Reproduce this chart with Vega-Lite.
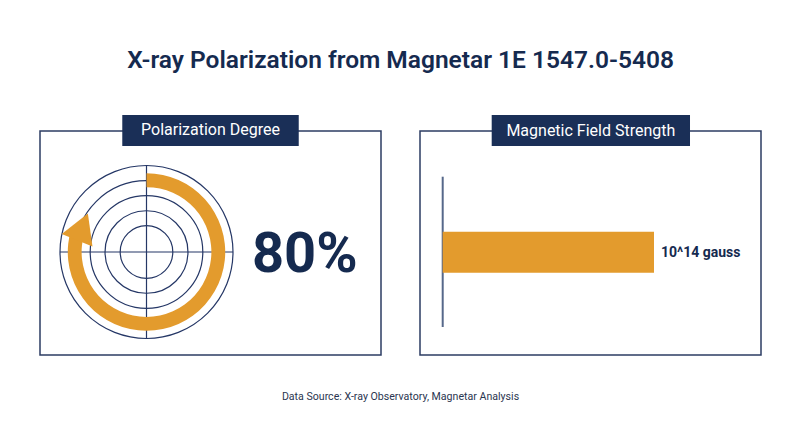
{
  "$schema": "https://vega.github.io/schema/vega-lite/v6.json",
  "background": "white",
  "padding": {"left": 39, "top": 47, "right": 40, "bottom": 10},
  "title": {
    "text": "X-ray Polarization from Magnetar 1E 1547.0-5408",
    "font": "Roboto",
    "fontSize": 24.5,
    "fontWeight": 600,
    "color": "#152a4f",
    "anchor": "middle",
    "offset": 41
  },
  "datasets": {
    "polarization": [{"metric": "Polarization Degree", "degree": 0.8}],
    "rings": [{"r": 30.4}, {"r": 47.7}, {"r": 65.1}, {"r": 82.4}, {"r": 100}],
    "field": [{"metric": "Magnetic Field Strength", "gauss": 1e14, "label": "10^14 gauss"}]
  },
  "vconcat": [
    {
      "spacing": 37,
      "title": {
        "text": "Data Source: X-ray Observatory, Magnetar Analysis",
        "orient": "bottom",
        "anchor": "middle",
        "font": "Roboto",
        "fontSize": 10.6,
        "fontWeight": "normal",
        "color": "#2a3550",
        "offset": 36
      },
      "hconcat": [
        {
          "width": 341,
          "height": 224,
          "layer": [
            {
              "data": {"name": "rings"},
              "mark": {"type": "arc", "filled": false, "stroke": "#253766", "strokeWidth": 1.2},
              "encoding": {
                "x": {"datum": 0, "type": "quantitative", "stack": null, "scale": {"domain": [-100, 100], "range": [20, 193]}, "axis": null},
                "y": {"datum": 0, "type": "quantitative", "stack": null, "scale": {"domain": [-100, 100], "range": [207.5, 34.5]}, "axis": null},
                "theta": {"datum": 0, "type": "quantitative", "stack": null, "scale": {"type": "linear", "domain": [0, 1], "range": [0, 6.2832]}},
                "theta2": {"datum": 1},
                "radius": {"field": "r", "type": "quantitative", "stack": null, "scale": {"type": "linear", "domain": [0, 100], "range": [0, 86.5]}}
              }
            },
            {
              "data": {"name": "polarization"},
              "mark": {"type": "rule", "color": "#253766", "strokeWidth": 1.2},
              "encoding": {
                "x": {"datum": 0, "type": "quantitative"},
                "y": {"datum": -100, "type": "quantitative"},
                "y2": {"datum": 100}
              }
            },
            {
              "data": {"name": "polarization"},
              "mark": {"type": "rule", "color": "#253766", "strokeWidth": 1.2},
              "encoding": {
                "y": {"datum": 0, "type": "quantitative"},
                "x": {"datum": -100, "type": "quantitative"},
                "x2": {"datum": 100}
              }
            },
            {
              "data": {"name": "polarization"},
              "mark": {"type": "arc", "color": "#e39b2d"},
              "encoding": {
                "x": {"datum": 0, "type": "quantitative", "stack": null},
                "y": {"datum": 0, "type": "quantitative", "stack": null},
                "theta": {"field": "degree", "type": "quantitative", "stack": null},
                "theta2": {"datum": 0},
                "radius": {"datum": 91, "type": "quantitative", "stack": null},
                "radius2": {"datum": 75}
              }
            },
            {
              "data": {"name": "polarization"},
              "mark": {"type": "point", "shape": "triangle-up", "filled": true, "color": "#e39b2d", "opacity": 1, "size": 1100, "angle": 22},
              "encoding": {
                "x": {"datum": -74, "type": "quantitative"},
                "y": {"datum": 29, "type": "quantitative"}
              }
            },
            {
              "data": {"name": "polarization"},
              "mark": {"type": "text", "font": "Roboto", "fontSize": 56, "fontWeight": "bold", "color": "#152a4f", "align": "center", "baseline": "middle"},
              "encoding": {
                "x": {"datum": 183, "type": "quantitative"},
                "y": {"datum": -3, "type": "quantitative"},
                "text": {"field": "degree", "type": "quantitative", "format": ".0%"}
              }
            },
            {
              "data": {"name": "polarization"},
              "mark": {"type": "rect", "color": "#1a2f57"},
              "encoding": {
                "x": {"datum": -28, "type": "quantitative"},
                "x2": {"datum": 176},
                "y": {"datum": 158.4, "type": "quantitative"},
                "y2": {"datum": 122.5}
              }
            },
            {
              "data": {"name": "polarization"},
              "mark": {"type": "text", "font": "Roboto", "fontSize": 16, "color": "white", "align": "center", "baseline": "middle"},
              "encoding": {
                "x": {"datum": 74, "type": "quantitative"},
                "y": {"datum": 140.5, "type": "quantitative"},
                "text": {"field": "metric", "type": "nominal"}
              }
            }
          ]
        },
        {
          "width": 341,
          "height": 224,
          "data": {"name": "field"},
          "layer": [
            {
              "mark": {"type": "rule", "color": "#56688a", "strokeWidth": 2},
              "encoding": {
                "x": {"datum": 0, "type": "quantitative", "scale": {"domain": [0, 1e14], "range": [22.7, 234]}, "axis": null},
                "y": {"datum": 0, "type": "quantitative", "scale": {"domain": [0, 100], "range": [196, 45.7]}, "axis": null},
                "y2": {"datum": 100}
              }
            },
            {
              "mark": {"type": "bar", "color": "#e39b2d"},
              "encoding": {
                "x": {"field": "gauss", "type": "quantitative", "stack": null},
                "x2": {"datum": 0},
                "y": {"datum": 36.1, "type": "quantitative", "stack": null},
                "y2": {"datum": 63.4}
              }
            },
            {
              "mark": {"type": "text", "font": "Roboto", "fontSize": 14, "fontWeight": "bold", "color": "#152a4f", "align": "left", "baseline": "middle", "dx": 7},
              "encoding": {
                "x": {"field": "gauss", "type": "quantitative"},
                "y": {"datum": 49.4, "type": "quantitative"},
                "text": {"field": "label", "type": "nominal"}
              }
            },
            {
              "mark": {"type": "rect", "color": "#1a2f57"},
              "encoding": {
                "x": {"datum": 2.319e13, "type": "quantitative"},
                "x2": {"datum": 1.1704e14},
                "y": {"datum": 141.05, "type": "quantitative"},
                "y2": {"datum": 120.4}
              }
            },
            {
              "mark": {"type": "text", "font": "Roboto", "fontSize": 16, "color": "white", "align": "center", "baseline": "middle"},
              "encoding": {
                "x": {"datum": 7.011e13, "type": "quantitative"},
                "y": {"datum": 130.7, "type": "quantitative"},
                "text": {"field": "metric", "type": "nominal"}
              }
            }
          ]
        }
      ]
    }
  ],
  "config": {
    "view": {"stroke": "#2c3d63", "strokeWidth": 1.5},
    "font": "Roboto"
  }
}
